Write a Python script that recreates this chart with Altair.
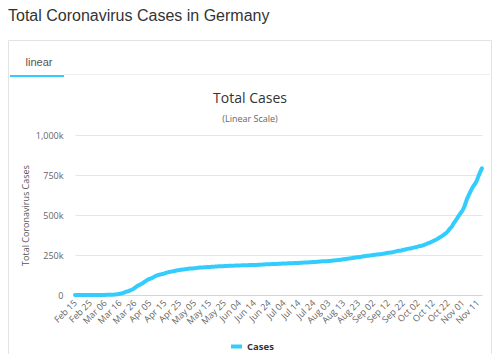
import altair as alt
import pandas as pd

# Daily categories Feb 15 .. Nov 14 (2020)
dates = list(pd.date_range("2020-02-15", "2020-11-14", freq="D").strftime("%b %d"))

feb = [16, 16, 16, 16, 16, 16, 16, 16, 16, 16, 18, 21, 26, 53, 66]
mar = [117, 150, 188, 240, 400, 639, 795, 902, 1139, 1296,
       1567, 2369, 3062, 3795, 5813, 7272, 9257, 12327, 15320, 19848,
       22213, 24873, 29056, 32986, 37323, 43938, 50871, 57695, 62095, 66885, 71808]
apr = [77872, 84794, 91159, 96092, 100123, 103374, 107663, 113296, 118181, 122171,
       124908, 127854, 130072, 131359, 134753, 137698, 141397, 143342, 145184, 147065,
       148291, 150648, 153129, 154999, 156513, 157770, 158758, 159912, 161539, 163009]
may = [164077, 164967, 165664, 166152, 167007, 168162, 169430, 170588, 171324, 171879,
       172576, 173171, 174098, 174478, 175233, 175752, 176369, 176551, 177778, 178473,
       179021, 179710, 179986, 180328, 180600, 181200, 181524, 182196, 182922, 183189, 183410]
jun = [183594, 183879, 184121, 184472, 184924, 185450, 185750, 186022, 186269, 186506,
       186839, 187267, 187518, 187671, 187764, 188252, 188534, 189135, 189822, 190359,
       190862, 191449, 192079, 192480, 192556, 193243, 193499, 193761, 194259, 194725]
jul = [195228, 195893, 196335, 196554, 196944, 197341, 197783, 198178, 198556, 198963,
       199375, 199726, 200180, 200456, 200890, 201574, 202345, 202799, 203325, 203717,
       204183, 204881, 205623, 206278, 206926, 207112, 207707, 208698, 209653, 210402, 211220]
aug = [211281, 211700, 212022, 212828, 213828, 215210, 216327, 217293, 217946, 218519,
       219964, 221413, 222828, 224488, 225404, 226914, 227915, 229357, 230797, 232339,
       234013, 235429, 236122, 237584, 239010, 240638, 242137, 243599, 244855, 245541, 246932]
sep = [248275, 249663, 251060, 252298, 253474, 254487, 255366, 256850, 258480, 260355,
       262111, 263663, 264650, 265857, 267615, 269661, 271940, 274158, 276134, 277076,
       279025, 281184, 283419, 285878, 288067, 289977, 291100, 293144, 295372, 297331]
octo = [299998, 302606, 305283, 306468, 309360, 312337, 316000, 320000, 324000, 328000,
        331500, 336000, 341000, 345500, 350000, 356000, 362000, 367000, 374000, 381000,
        388000, 397000, 409000, 420000, 431000, 448000, 460000, 475000, 490000, 503000, 517000]
nov = [530000, 548000, 575000, 601000, 622000, 641000, 660000, 677000, 690000, 706000,
       727000, 751000, 773000, 792000]

cases = feb + mar + apr + may + jun + jul + aug + sep + octo + nov
assert len(cases) == len(dates), (len(cases), len(dates))

tick_labels = ["Feb 15", "Feb 25", "Mar 06", "Mar 16", "Mar 26", "Apr 05", "Apr 15",
               "Apr 25", "May 05", "May 15", "May 25", "Jun 04", "Jun 14", "Jun 24",
               "Jul 04", "Jul 14", "Jul 24", "Aug 03", "Aug 13", "Aug 23", "Sep 02",
               "Sep 12", "Sep 22", "Oct 02", "Oct 12", "Oct 22", "Nov 01", "Nov 11"]
y_ticks = [0, 250000, 500000, 750000, 1000000]

page_title = "Total Coronavirus Cases in Germany"
tab_label = "linear"
chart_title = "Total Cases"
chart_subtitle = "(Linear Scale)"
y_title = "Total Coronavirus Cases"
series_name = "Cases"

df = pd.DataFrame({"date": dates, "cases": cases, "series": series_name})

CYAN = "#33ccff"
FONT = "Open Sans"
one = pd.DataFrame({"a": [0]})

line = alt.Chart(df).mark_line(strokeWidth=4, interpolate="monotone", strokeCap="round").encode(
    x=alt.X("date:O",
            scale=alt.Scale(type="point", domain=dates, padding=0),
            axis=alt.Axis(values=tick_labels, labelAngle=-45, labelAlign="right",
                          labelBaseline="middle", labelPadding=6, ticks=False,
                          domainColor="#ccd6eb", grid=False, labelColor="#666666",
                          labelFont=FONT, labelFontSize=9, title=None,
                          labelOverlap=False)),
    y=alt.Y("cases:Q",
            scale=alt.Scale(domain=[0, 1000000], nice=False),
            axis=alt.Axis(values=y_ticks, ticks=False, domain=False, grid=True,
                          gridColor="#e6e6e6", labelColor="#666666", labelFont=FONT,
                          labelFontSize=9, labelPadding=12,
                          labelExpr="datum.value == 0 ? '0' : format(datum.value / 1000, ',') + 'k'",
                          title=y_title, titleX=-50, titleY=80, titleAngle=-90,
                          titleAlign="center", titleBaseline="middle",
                          titleFont=FONT, titleFontSize=9, titleFontWeight="normal",
                          titleColor="#555555")),
    color=alt.Color("series:N", scale=alt.Scale(range=[CYAN]),
                    legend=alt.Legend(title=None, orient="none", legendX=154, legendY=204,
                                      symbolType="stroke", symbolStrokeWidth=4,
                                      symbolSize=120, padding=0, labelOffset=3,
                                      labelFont=FONT, labelFontSize=9.5,
                                      labelFontWeight="bold", labelColor="#333333")),
)

box = alt.Chart(one).mark_rect(fillOpacity=0, stroke="#e3e3e3", strokeWidth=1).encode(
    x=alt.value(-66.5), x2=alt.value(416.5), y=alt.value(-94.5), y2=alt.value(400)
)
sep_line = alt.Chart(one).mark_rule(color="#eeeeee", strokeWidth=1).encode(
    x=alt.value(-11), x2=alt.value(415), y=alt.value(-60.5)
)
tab_line = alt.Chart(one).mark_rule(color=CYAN, strokeWidth=2).encode(
    x=alt.value(-65), x2=alt.value(-11), y=alt.value(-59)
)

def label(text, x, y, size, color, font, align="center", weight="normal"):
    return alt.Chart(one).mark_text(text=text, align=align, baseline="alphabetic",
                                    fontSize=size, color=color, font=font,
                                    fontWeight=weight).encode(
        x=alt.value(x), y=alt.value(y))

t_page = label(page_title, -67, -114, 16, "#333333", "Liberation Sans", align="left")
t_tab = label(tab_label, -36, -69, 11, "#555555", "Liberation Sans")
t_title = label(chart_title, 175, -32, 14, "#333333", FONT)
t_sub = label(chart_subtitle, 175, -13, 9, "#666666", FONT)

chart = alt.layer(box, sep_line, tab_line, t_page, t_tab, t_title, t_sub, line).properties(
    width=407, height=160,
    autosize=alt.AutoSizeParams(type="none"),
    padding={"left": 67, "top": 127, "right": 10, "bottom": 59},
    background="white",
).configure_view(stroke=None)

chart.save("out.html", embed_options={"renderer": "svg", "actions": False})
